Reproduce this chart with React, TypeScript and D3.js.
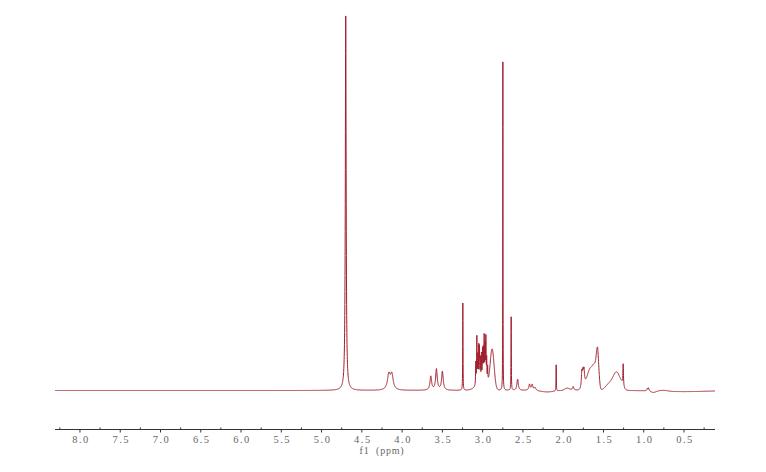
import React from "react";
import * as d3 from "d3";

// Spectrum peak list: chemical shift (ppm), intensity (% of tallest), half-width (ppm), shape
const peakPpm = [
  4.700, 4.165, 4.128, 3.644, 3.574, 3.500, 3.246,
  3.000, 3.085, 3.072, 3.060, 3.048, 3.040, 3.028, 3.015, 3.002, 2.992, 2.981, 2.970, 2.960, 2.950, 2.938,
  2.882, 2.749, 2.646, 2.566, 2.418, 2.385, 2.350, 2.200, 2.087,
  1.950, 1.876, 1.768, 1.755, 1.742, 1.750, 1.700, 1.660, 1.610, 1.573, 1.573,
  1.430, 1.335, 1.270, 1.255, 0.955, 0.940, 0.880, 0.750, 0.500,
];
const peakHeight = [
  100, 4.0, 4.0, 3.7, 5.6, 5.0, 23.3,
  2.0, 6, 12.5, 7, 9, 8.5, 6, 7, 8, 8, 11.5, 9, 11.5, 6, 4,
  10.5, 87.7, 19.6, 3.0, 1.6, 1.5, 0.8, -0.4, 7.0,
  0.6, 1.0, 3.8, 3.0, 3.4, 1.2, 2.0, 4.5, 5.5, 9.0, 0.6,
  1.6, 4.8, 0.6, 5.8, 0.6, 0.8, -0.4, 0.25, -0.3,
];
const peakWidth = [
  0.006, 0.02, 0.02, 0.012, 0.012, 0.012, 0.002,
  0.07, 0.003, 0.003, 0.003, 0.003, 0.003, 0.003, 0.003, 0.003, 0.003, 0.003, 0.003, 0.003, 0.003, 0.003,
  0.024, 0.0015, 0.002, 0.01, 0.01, 0.01, 0.012, 0.08, 0.002,
  0.03, 0.01, 0.007, 0.007, 0.007, 0.02, 0.03, 0.03, 0.025, 0.016, 0.006,
  0.045, 0.045, 0.015, 0.004, 0.006, 0.006, 0.03, 0.05, 0.3,
];
const peakShape = [
  "L", "L", "L", "L", "L", "L", "L",
  "G", "L", "L", "L", "L", "L", "L", "L", "L", "L", "L", "L", "L", "L", "L",
  "G", "L", "L", "L", "L", "L", "L", "G", "L",
  "G", "L", "L", "L", "L", "G", "G", "G", "G", "G", "L",
  "G", "G", "G", "L", "L", "L", "G", "G", "G",
];

const majorTicks = [8.0, 7.5, 7.0, 6.5, 6.0, 5.5, 5.0, 4.5, 4.0, 3.5, 3.0, 2.5, 2.0, 1.5, 1.0, 0.5];
const minorTicks = [8.25, 7.75, 7.25, 6.75, 6.25, 5.75, 5.25, 4.75, 4.25, 3.75, 3.25, 2.75, 2.25, 1.75, 1.25, 0.75, 0.25];
const axisTitle = "f1  (ppm)";

const W = 766, H = 472;
const ppmMax = 8.31, ppmMin = 0.115;

function intensity(p: number): number {
  let s = 0;
  for (let i = 0; i < peakPpm.length; i++) {
    const d = p - peakPpm[i];
    const w = peakWidth[i];
    if (peakShape[i] === "L") s += peakHeight[i] * (w * w) / (w * w + d * d);
    else s += peakHeight[i] * Math.exp(-(d * d) / (2 * w * w));
  }
  return s;
}

export default function App() {
  const x = d3.scaleLinear().domain([ppmMax, ppmMin]).range([55, 715]);
  const y = d3.scaleLinear().domain([0, 100]).range([390.5, 16]);

  const pts: number[] = [];
  for (let p = ppmMin; p <= ppmMax; p += 0.001) pts.push(p);
  peakPpm.forEach((c, i) => {
    if (peakShape[i] === "L") {
      const w = peakWidth[i];
      [-2 * w, -w, -0.5 * w, 0, 0.5 * w, w, 2 * w].forEach((o) => pts.push(c + o));
    }
  });
  pts.sort((a, b) => b - a);
  const data = pts.map((p) => [p, intensity(p)] as [number, number]);
  const line = d3
    .line<[number, number]>()
    .x((d) => x(d[0]))
    .y((d) => y(d[1]));

  const axisY = 429.5;
  const font = "'Liberation Serif', 'DejaVu Serif', serif";

  return (
    <svg
      width={W}
      height={H}
      style={{ position: "absolute", left: 0, top: 0, background: "#fff" }}
    >
      <path d={line(data) || ""} fill="none" stroke="#a11d2b" strokeWidth={1} strokeLinejoin="round" />
      <line x1={55} x2={715} y1={axisY} y2={axisY} stroke="#333" strokeWidth={1} />
      {majorTicks.map((t) => (
        <g key={"M" + t}>
          <line x1={x(t)} x2={x(t)} y1={axisY} y2={axisY + 3} stroke="#333" strokeWidth={1} />
          <text
            x={x(t) + 1}
            y={443}
            textAnchor="middle"
            fontFamily={font}
            fontSize={10.5}
            letterSpacing={1.5}
            fill="#666"
          >
            {t.toFixed(1)}
          </text>
        </g>
      ))}
      {minorTicks.map((t) => (
        <line key={"m" + t} x1={x(t)} x2={x(t)} y1={axisY - 2} y2={axisY} stroke="#333" strokeWidth={1} />
      ))}
      <text x={382} y={454} textAnchor="middle" fontFamily={font} fontSize={10} letterSpacing={0.8} fill="#666" style={{ whiteSpace: "pre" }}>
        {axisTitle}
      </text>
    </svg>
  );
}
